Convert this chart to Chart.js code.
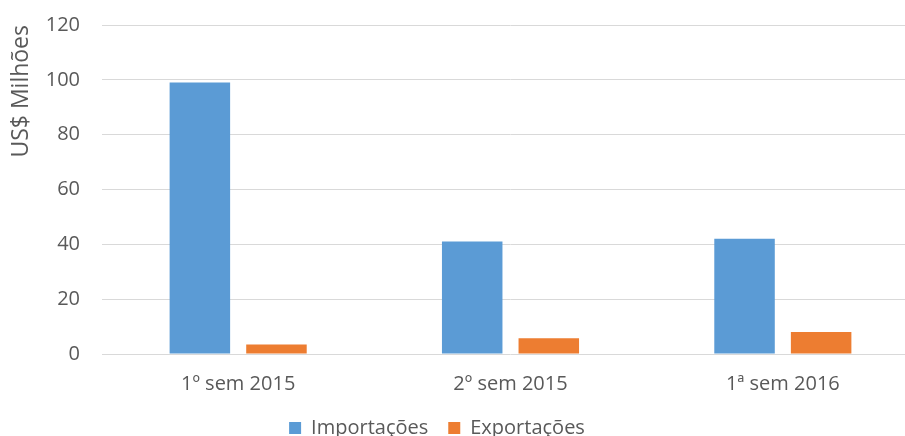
<!DOCTYPE html>
<html lang="pt">
<head>
<meta charset="utf-8">
<title>Importações e Exportações</title>
<script src="https://cdn.jsdelivr.net/npm/chart.js@4"></script>
<style>
  html, body { margin: 0; padding: 0; background: #fff; overflow: hidden; }
  #wrap { width: 905px; height: 436px; overflow: hidden; }
</style>
</head>
<body>
<div id="wrap">
  <canvas id="tradeChart" width="919" height="448"></canvas>
</div>
<script>
// Semester labels and values in US$ millions
const periods = ["1º sem 2015", "2º sem 2015", "1ª sem 2016"];
const importacoes = [99, 41, 42];
const exportacoes = [3.5, 5.7, 8];
const yTicks = [0, 20, 40, 60, 80, 100, 120];

const TEXT_COLOR = "#595959";
const GRID_COLOR = "#d9d9d9";
const FONT_FAMILY = "'Open Sans', 'Noto Sans', sans-serif";

// centre the legend under the left part of the canvas
const legendCenter = {
  id: "legendCenter",
  afterLayout(chart) {
    const lg = chart.legend;
    if (!lg) return;
    lg.left = 0;
    lg.right = 874;
  }
};

Chart.defaults.font.family = FONT_FAMILY;
Chart.defaults.color = TEXT_COLOR;

const ctx = document.getElementById("tradeChart").getContext("2d");
new Chart(ctx, {
  type: "bar",
  data: {
    labels: periods,
    datasets: [
      {
        label: "Importações",
        data: importacoes,
        backgroundColor: "#5b9bd5",
        categoryPercentage: 0.5625,
        barPercentage: 0.79
      },
      {
        label: "Exportações",
        data: exportacoes,
        backgroundColor: "#ed7d31",
        categoryPercentage: 0.5625,
        barPercentage: 0.79
      }
    ]
  },
  options: {
    responsive: false,
    animation: false,
    layout: { padding: { top: 25, left: 0, right: 0, bottom: 0 } },
    plugins: {
      tooltip: { enabled: false },
      legend: {
        position: "bottom",
        labels: {
          font: { size: 20 },
          boxWidth: 12,
          boxHeight: 12,
          padding: 20
        }
      }
    },
    scales: {
      x: {
        grid: { display: false, drawTicks: false },
        border: { display: false },
        ticks: { font: { size: 20 }, padding: 18 },
        afterFit(scale) { scale.height = 44; }
      },
      y: {
        min: 0,
        max: 120,
        afterBuildTicks(scale) {
          scale.ticks = yTicks.map(v => ({ value: v }));
        },
        // invisible tick marks give the gap between labels and plot
        grid: {
          color: GRID_COLOR,
          lineWidth: 1,
          drawTicks: true,
          tickLength: 20,
          tickColor: "rgba(0,0,0,0)"
        },
        border: { display: false },
        ticks: { font: { size: 20 }, padding: 2 },
        title: {
          display: true,
          text: "US$ Milhões",
          align: "end",
          font: { size: 23 },
          padding: { top: 8, bottom: 0 }
        },
        afterFit(scale) { scale.width = 102; }
      }
    }
  },
  plugins: [legendCenter]
});
</script>
</body>
</html>
